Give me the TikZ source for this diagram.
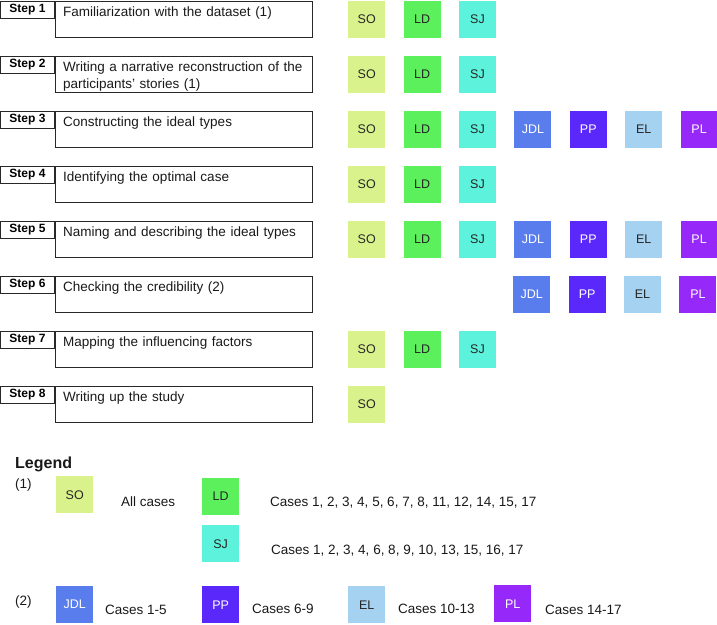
\documentclass[tikz,border=0pt]{standalone}
\usepackage{fontspec}
\setmainfont{Liberation Sans}
\usetikzlibrary{positioning}
\definecolor{SOGreen}{RGB}{218,242,140}
\definecolor{LDGreen}{RGB}{92,240,92}
\definecolor{SJCyan}{RGB}{92,242,220}
\definecolor{JDLBlue}{RGB}{90,125,238}
\definecolor{PPViolet}{RGB}{90,40,250}
\definecolor{ELBlue}{RGB}{165,210,240}
\definecolor{PLPurple}{RGB}{150,40,250}
\definecolor{BoxLine}{RGB}{40,40,40}
\tikzset{
  stepbox/.style={draw=BoxLine,line width=1pt,minimum width=257pt,
    minimum height=36pt,anchor=north west,inner sep=0pt},
  steplabel/.style={draw=BoxLine,line width=1pt,minimum width=54pt,
    minimum height=17pt,anchor=north east,inner sep=0pt,
    font=\fontsize{12}{14}\selectfont\bfseries},
  steptext/.style={anchor=north west,inner sep=0pt,text width=245pt,
    align=left,text=black!90,font=\fontsize{13.5}{17}\selectfont},
  member/.style={minimum size=37pt,inner sep=0pt,anchor=north west,
    font=\fontsize{12.5}{14}\selectfont,text=black!85},
  soBox/.style={member,fill=SOGreen},
  ldBox/.style={member,fill=LDGreen},
  sjBox/.style={member,fill=SJCyan},
  jdlBox/.style={member,fill=JDLBlue,text=white},
  ppBox/.style={member,fill=PPViolet,text=white},
  elBox/.style={member,fill=ELBlue},
  plBox/.style={member,fill=PLPurple,text=white},
  legtext/.style={anchor=base west,inner sep=0pt,text=black!90,
    font=\fontsize{13.5}{16}\selectfont}
}

\begin{document}
\begin{tikzpicture}[x=1pt,y=-1pt,node distance=18pt]
      \useasboundingbox (0,0) rectangle (717,624);
      % steps
      \node[stepbox] (box1) at (55,0.5) {};
      \node[steplabel] (step1) at (box1.north west) {Step 1};
      \node[steptext] (txt1) at ([xshift=8pt,yshift=-6pt]box1.north west) {Familiarization with the dataset (1)};
      \node[stepbox] (box2) at (55,55.5) {};
      \node[steplabel] (step2) at (box2.north west) {Step 2};
      \node[steptext] (txt2) at ([xshift=8pt,yshift=-6pt]box2.north west) {Writing a narrative reconstruction of the participants' stories (1)};
      \node[stepbox] (box3) at (55,110.5) {};
      \node[steplabel] (step3) at (box3.north west) {Step 3};
      \node[steptext] (txt3) at ([xshift=8pt,yshift=-6pt]box3.north west) {Constructing the ideal types};
      \node[stepbox] (box4) at (55,165.5) {};
      \node[steplabel] (step4) at (box4.north west) {Step 4};
      \node[steptext] (txt4) at ([xshift=8pt,yshift=-6pt]box4.north west) {Identifying the optimal case};
      \node[stepbox] (box5) at (55,220.5) {};
      \node[steplabel] (step5) at (box5.north west) {Step 5};
      \node[steptext] (txt5) at ([xshift=8pt,yshift=-6pt]box5.north west) {Naming and describing the ideal types};
      \node[stepbox] (box6) at (55,275.5) {};
      \node[steplabel] (step6) at (box6.north west) {Step 6};
      \node[steptext] (txt6) at ([xshift=8pt,yshift=-6pt]box6.north west) {Checking the credibility (2)};
      \node[stepbox] (box7) at (55,330.5) {};
      \node[steplabel] (step7) at (box7.north west) {Step 7};
      \node[steptext] (txt7) at ([xshift=8pt,yshift=-6pt]box7.north west) {Mapping the influencing factors};
      \node[stepbox] (box8) at (55,385.5) {};
      \node[steplabel] (step8) at (box8.north west) {Step 8};
      \node[steptext] (txt8) at ([xshift=8pt,yshift=-6pt]box8.north west) {Writing up the study};
      % researchers per step
      \node[soBox] (so1) at (348,0.5) {SO};
      \node[ldBox,right=of so1] (ld1) {LD};
      \node[sjBox,right=of ld1] (sj1) {SJ};
      \node[soBox] (so2) at (348,55.5) {SO};
      \node[ldBox,right=of so2] (ld2) {LD};
      \node[sjBox,right=of ld2] (sj2) {SJ};
      \node[soBox] (so3) at (348,110.5) {SO};
      \node[ldBox,right=of so3] (ld3) {LD};
      \node[sjBox,right=of ld3] (sj3) {SJ};
      \node[jdlBox,right=of sj3] (jdl3) {JDL};
      \node[ppBox,right=of jdl3] (pp3) {PP};
      \node[elBox,right=of pp3] (el3) {EL};
      \node[plBox,right=of el3] (pl3) {PL};
      \node[soBox] (so4) at (348,165.5) {SO};
      \node[ldBox,right=of so4] (ld4) {LD};
      \node[sjBox,right=of ld4] (sj4) {SJ};
      \node[soBox] (so5) at (348,220.5) {SO};
      \node[ldBox,right=of so5] (ld5) {LD};
      \node[sjBox,right=of ld5] (sj5) {SJ};
      \node[jdlBox,right=of sj5] (jdl5) {JDL};
      \node[ppBox,right=of jdl5] (pp5) {PP};
      \node[elBox,right=of pp5] (el5) {EL};
      \node[plBox,right=of el5] (pl5) {PL};
      \node[jdlBox] (jdl6) at (513,275.5) {JDL};
      \node[ppBox,right=of jdl6] (pp6) {PP};
      \node[elBox,right=of pp6] (el6) {EL};
      \node[plBox,right=of el6] (pl6) {PL};
      \node[soBox] (so7) at (348,330.5) {SO};
      \node[ldBox,right=of so7] (ld7) {LD};
      \node[sjBox,right=of ld7] (sj7) {SJ};
      \node[soBox] (so8) at (348,385.5) {SO};
      % legend
      \node[legtext,font=\fontsize{16}{18}\selectfont\bfseries] (legend) at (15,468) {Legend};
      \node[legtext] (grp1) at (15,488) {(1)};
      \node[soBox] (soL) at (56,476) {SO};
      \node[legtext] (soTxt) at (121,506) {All cases};
      \node[ldBox] (ldL) at (202,477.5) {LD};
      \node[legtext] (ldTxt) at (270,506) {Cases 1, 2, 3, 4, 5, 6, 7, 8, 11, 12, 14, 15, 17};
      \node[sjBox] (sjL) at (202,525) {SJ};
      \node[legtext] (sjTxt) at (271,554) {Cases 1, 2, 3, 4, 6, 8, 9, 10, 13, 15, 16, 17};
      \node[legtext] (grp2) at (15,605) {(2)};
      \node[jdlBox] (jdlL) at (56,586) {JDL};
      \node[legtext] (jdlTxt) at (105,614) {Cases 1-5};
      \node[ppBox] (ppL) at (202,586) {PP};
      \node[legtext] (ppTxt) at (252,613) {Cases 6-9};
      \node[elBox] (elL) at (348,586) {EL};
      \node[legtext] (elTxt) at (398,613) {Cases 10-13};
      \node[plBox] (plL) at (494,585) {PL};
      \node[legtext] (plTxt) at (545,614) {Cases 14-17};
    \end{tikzpicture}
\end{document}
